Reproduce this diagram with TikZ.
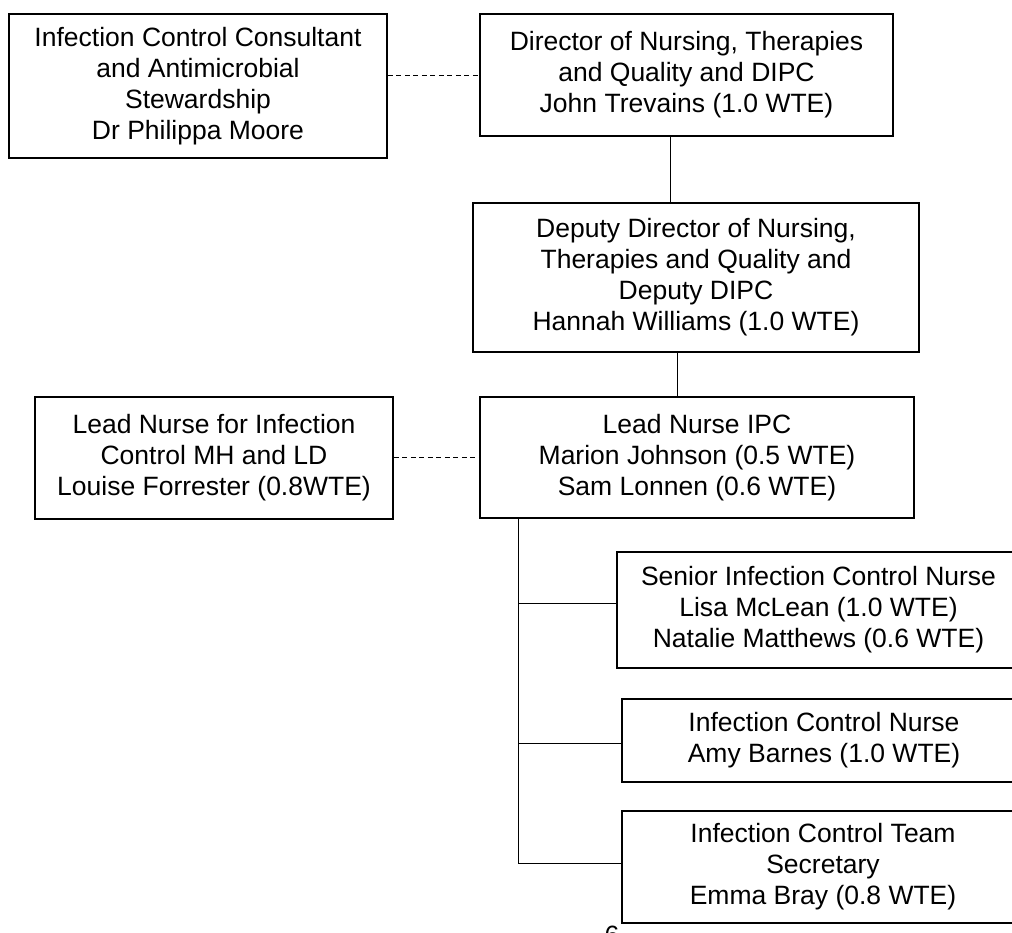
\documentclass[tikz,border=0pt]{standalone}
\usepackage{fontspec}
\setmainfont{Liberation Sans}

\begin{document}
\begin{tikzpicture}[x=1pt, y=-1pt, font=\fontsize{26.5}{31}\selectfont,
  post/.style={draw, line width=1.6pt, align=center, inner sep=0pt},
  link/.style={line width=1pt},
  dotlink/.style={line width=1pt, dash pattern=on 5pt off 3.5pt}]
\useasboundingbox (0,0) rectangle (1012,932);
\node[post, minimum width=378pt, minimum height=144pt] (consultant) at (198,86) {Infection Control Consultant\\and Antimicrobial\\Stewardship\\Dr Philippa Moore};
\node[post, minimum width=413pt, minimum height=122pt] (director) at (686.5,75) {Director of Nursing, Therapies\\and Quality and DIPC\\John Trevains (1.0 WTE)};
\node[post, minimum width=446pt, minimum height=149pt] (deputy) at (696,277.5) {Deputy Director of Nursing,\\Therapies and Quality and\\Deputy DIPC\\Hannah Williams (1.0 WTE)};
\node[post, minimum width=434pt, minimum height=121pt] (lead) at (697,457.5) {Lead Nurse IPC\\Marion Johnson (0.5 WTE)\\Sam Lonnen (0.6 WTE)};
\node[post, minimum width=358pt, minimum height=122pt] (mhlead) at (214,458) {Lead Nurse for Infection\\Control MH and LD\\Louise Forrester (0.8WTE)};
\node[post, minimum width=403pt, minimum height=116pt] (senior) at (818.5,610) {Senior Infection Control Nurse\\Lisa McLean (1.0 WTE)\\Natalie Matthews (0.6 WTE)};
\node[post, minimum width=404pt, minimum height=83pt] (nurse) at (824,740.5) {Infection Control Nurse\\Amy Barnes (1.0 WTE)};
\node[post, minimum width=402pt, minimum height=112pt] (secretary) at (823,867) {Infection Control Team\\Secretary\\Emma Bray (0.8 WTE)};
\node[anchor=base] (page) at (612,944) {6};

\coordinate (trunk) at ([xshift=-179pt]lead.south);
\draw[dotlink] (consultant.east |- director.west) -- (director.west);
\draw[dotlink] (mhlead.east |- lead.west) -- (lead.west);
\draw[link] ([xshift=-16.5pt]director.south) -- ([xshift=-16.5pt]director.south |- deputy.north);
\draw[link] ([xshift=-19pt]deputy.south) -- ([xshift=-19pt]deputy.south |- lead.north);
\draw[link] (trunk) |- ([yshift=4pt]secretary.west);
\draw[link] ([yshift=7pt]senior.west) -- ([yshift=7pt]senior.west -| trunk);
\draw[link] ([yshift=-2.5pt]nurse.west) -- ([yshift=-2.5pt]nurse.west -| trunk);
\end{tikzpicture}
\end{document}
